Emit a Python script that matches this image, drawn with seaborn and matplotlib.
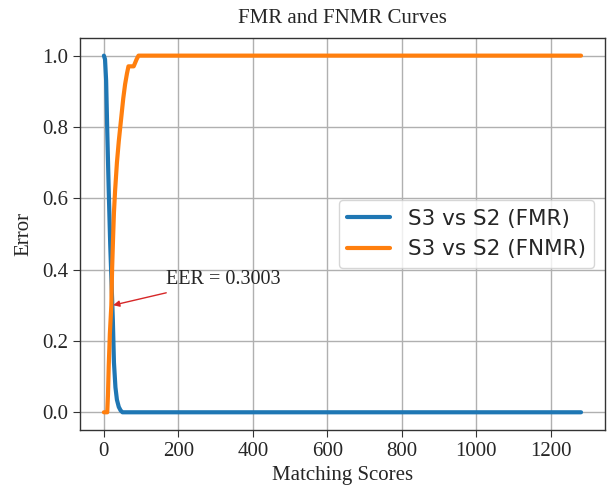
import numpy as np
import pandas as pd
import seaborn as sns
import matplotlib
matplotlib.use('Agg')
import matplotlib.pyplot as plt

# Values
fmr_scores = [0, 3, 6, 9, 13, 17, 20, 24, 27, 31, 35, 40, 45, 50, 1282]
fmr_values = [1.0, 0.99, 0.93, 0.79, 0.62, 0.47, 0.38, 0.26, 0.14, 0.07,
              0.035, 0.015, 0.005, 0.0, 0.0]

fnmr_scores = [0, 9, 11, 13, 16, 20, 22, 25, 27, 30, 35, 40, 43, 48, 52,
               57, 62, 66, 80, 84, 88, 93, 1282]
fnmr_values = [0.0, 0.0, 0.05, 0.13, 0.22, 0.30, 0.40, 0.50, 0.56, 0.62,
               0.70, 0.76, 0.79, 0.84, 0.88, 0.92, 0.95, 0.97, 0.97, 0.98,
               0.99, 1.0, 1.0]

eer_score = 21
eer_value = 0.3003

sns.set_style('ticks')
serif = ['Liberation Serif', 'DejaVu Serif']

fig, ax = plt.subplots(figsize=(6.11, 4.91), dpi=100)
fig.subplots_adjust(left=0.131, right=0.990, top=0.923, bottom=0.124)

sns.lineplot(x=fmr_scores, y=fmr_values, ax=ax, color='#1f77b4',
             linewidth=3, label='S3 vs S2 (FMR)')
sns.lineplot(x=fnmr_scores, y=fnmr_values, ax=ax, color='#ff7f0e',
             linewidth=3, label='S3 vs S2 (FNMR)')

ax.annotate(f'EER = {eer_value:.4f}', xy=(eer_score + 4, eer_value),
            xytext=(168, 0.36), fontsize=14.5, family=serif,
            arrowprops=dict(arrowstyle='-|>', color='#d62728', lw=1,
                            mutation_scale=9, shrinkA=2, shrinkB=0))

ax.grid(True, color='#b0b0b0', linewidth=1)
ax.set_ylim(-0.05, 1.05)
ax.set_yticks([0.0, 0.2, 0.4, 0.6, 0.8, 1.0])
ax.set_xticks([0, 200, 400, 600, 800, 1000, 1200])

for spine in ax.spines.values():
    spine.set_color('#333333')
    spine.set_linewidth(1)
ax.tick_params(length=5, color='#333333', labelsize=15)
for lbl in ax.get_xticklabels() + ax.get_yticklabels():
    lbl.set_family(serif)

ax.set_title('FMR and FNMR Curves', fontsize=15, family=serif, pad=11)
ax.set_xlabel('Matching Scores', fontsize=15, family=serif)
ax.set_ylabel('Error', fontsize=15, family=serif, labelpad=6)

ax.legend(loc='center right', fontsize=15.5, frameon=True, handlelength=2)

fig.savefig('out.png', dpi=100)
